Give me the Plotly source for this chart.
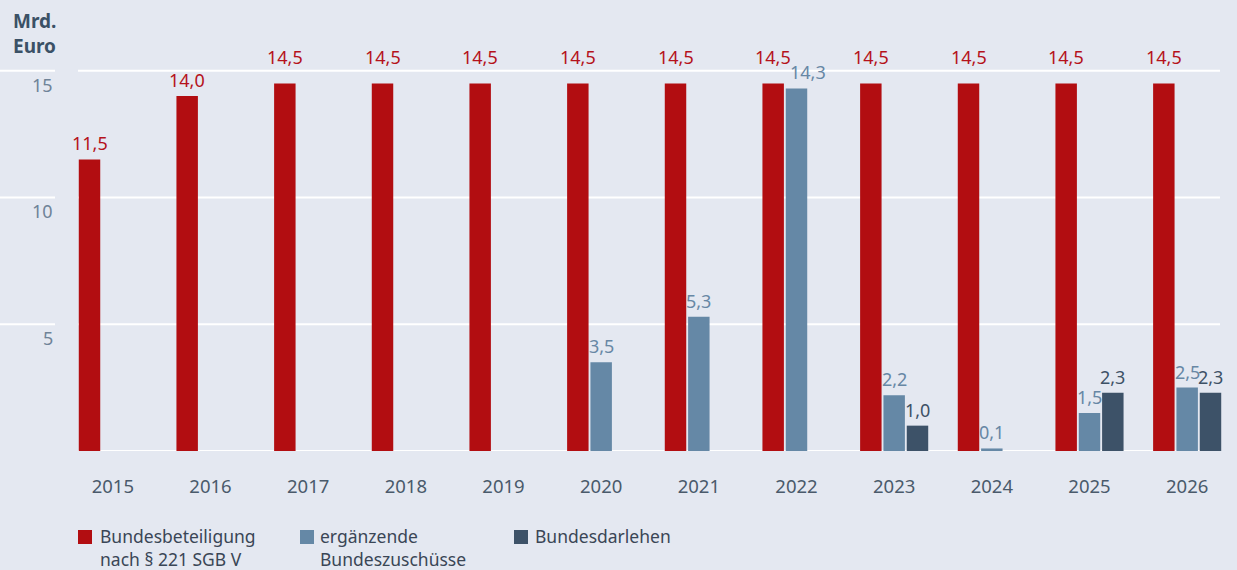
import plotly.graph_objects as go

years = ["2015", "2016", "2017", "2018", "2019", "2020", "2021", "2022", "2023", "2024", "2025", "2026"]
bundesbeteiligung = [11.5, 14.0, 14.5, 14.5, 14.5, 14.5, 14.5, 14.5, 14.5, 14.5, 14.5, 14.5]
ergaenzende = [None, None, None, None, None, 3.5, 5.3, 14.3, 2.2, 0.1, 1.5, 2.5]
darlehen = [None, None, None, None, None, None, None, None, 1.0, None, 2.3, 2.3]
series_names = ["Bundesbeteiligung<br>nach § 221 SGB V", "ergänzende<br>Bundeszuschüsse", "Bundesdarlehen"]
y_ticks = [5, 10, 15]
y_unit = "Mrd.<br>Euro"

BG = "#e4e8f1"
COLORS = ["#b20d11", "#6588a6", "#3d5268"]
TEXT_COLORS = ["#b5121b", "#6787a5", "#3d5166"]
FONT = "Noto Sans"

W, H = 1237, 570
L, R, T, B = 64, 1, 20, 119
YMAX = 17
plot_w = W - L - R
plot_h = H - T - B
cat_px = plot_w / len(years)
bargap = 0.2835
slot_px = cat_px * (1 - bargap) / 3


def px2paper(px):
    return (px - L) / plot_w


def py2paper(py):
    return (H - B - py) / plot_h


fig = go.Figure()
all_series = [bundesbeteiligung, ergaenzende, darlehen]
for name, vals, col in zip(series_names, all_series, COLORS):
    fig.add_trace(go.Bar(x=years, y=vals, name=name, marker_color=col,
                         marker_line_width=0, hoverinfo="skip", showlegend=False))

# value labels
top_tick = max(y_ticks)
for si, (vals, tc) in enumerate(zip(all_series, TEXT_COLORS)):
    for i, v in enumerate(vals):
        if v is None:
            continue
        snap = si == 0 and top_tick - 0.5 <= v <= top_tick
        # nudge a label right when it sits just under the snapped label of its left neighbour
        nudge = 11 if (si == 1 and v > top_tick - 1) else 0
        fig.add_annotation(
            x=i, y=top_tick if snap else v, xref="x", yref="y",
            text=f"{v:.1f}".replace(".", ","), showarrow=False,
            xanchor="center", yanchor="bottom",
            xshift=(si - 1) * slot_px + nudge, yshift=1 if snap else 3,
            font=dict(family=FONT, size=18, color=tc),
            borderpad=0,
        )

# gridlines: main part and short left segments
for t in [0] + y_ticks:
    fig.add_shape(type="line", xref="paper", yref="y", x0=px2paper(78), x1=px2paper(1220),
                  y0=t, y1=t, line=dict(color="white", width=2), layer="below")
for t in y_ticks:
    fig.add_shape(type="line", xref="paper", yref="y", x0=px2paper(0), x1=px2paper(55),
                  y0=t, y1=t, line=dict(color="white", width=2), layer="below")
    fig.add_annotation(x=px2paper(55), y=t, xref="paper", yref="y", text=str(t),
                       showarrow=False, xanchor="right", yanchor="top", yshift=0,
                       font=dict(family=FONT, size=18, color="#6f8398"))

fig.add_annotation(x=px2paper(11), y=py2paper(6), xref="paper", yref="paper",
                   text=f"<b>{y_unit}</b>", showarrow=False, xanchor="left", yanchor="top",
                   align="left", font=dict(family=FONT, size=19, color="#3b5166"))

# legend (drawn manually)
legend_marker_x = [78, 300, 514]
legend_text_x = [99, 319, 534]
for name, col, mx, tx in zip(series_names, COLORS, legend_marker_x, legend_text_x):
    fig.add_shape(type="rect", xref="paper", yref="paper",
                  x0=px2paper(mx), x1=px2paper(mx + 14), y0=py2paper(530), y1=py2paper(544),
                  fillcolor=col, line_width=0)
    fig.add_annotation(x=px2paper(tx), y=py2paper(523), xref="paper", yref="paper",
                       text=name, showarrow=False, xanchor="left", yanchor="top",
                       align="left", borderpad=0,
                       font=dict(family=FONT, size=17.5, color="#3a4656"))

fig.update_layout(
    width=W, height=H,
    margin=dict(l=L, r=R, t=T, b=B),
    paper_bgcolor=BG, plot_bgcolor=BG,
    barmode="group", bargap=bargap, bargroupgap=0.08,
    font=dict(family=FONT, size=18, color="#4a5a6b"),
    xaxis=dict(type="category", range=[-0.5, len(years) - 0.5], showgrid=False,
               zeroline=False, showline=False, ticks="", ticklabelstandoff=22,
               tickfont=dict(family=FONT, size=18.5, color="#4a5a6b"), fixedrange=True),
    yaxis=dict(range=[0, YMAX], showgrid=False, zeroline=False, showline=False,
               showticklabels=False, fixedrange=True),
    showlegend=False,
)

fig.write_html("out.html", config={"displayModeBar": False},
               post_script="document.body.style.margin='0';document.body.style.overflow='hidden';")
